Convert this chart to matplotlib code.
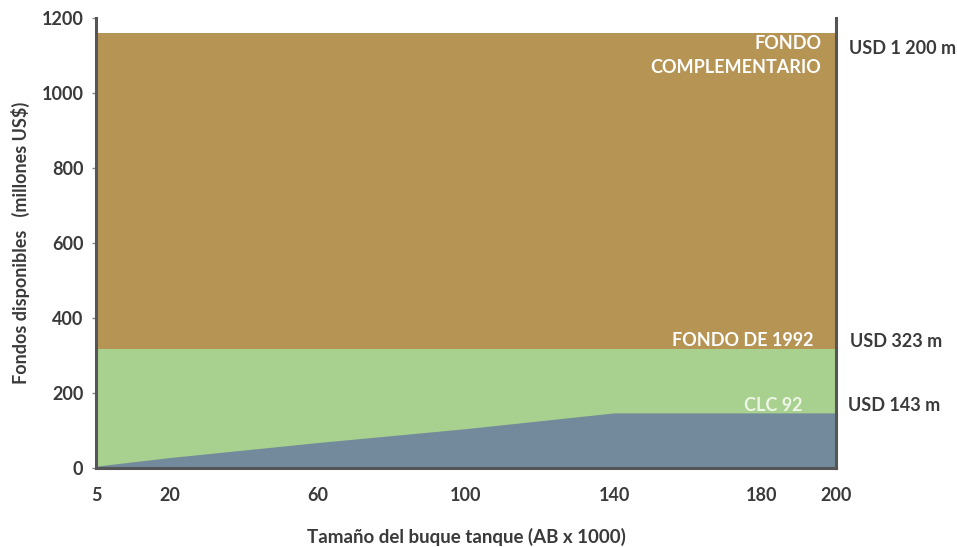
import matplotlib.pyplot as plt

# Tamaño del buque (AB x 1000) y fondos disponibles (millones US$)
ab = [5, 20, 60, 100, 140, 200]
clc92 = [5, 28, 68, 105, 147, 147]
fondo_1992 = 318
fondo_compl = 1160

xticks = [5, 20, 60, 100, 140, 180, 200]
yticks = [0, 200, 400, 600, 800, 1000, 1200]

c_compl = "#B69454"
c_1992 = "#A8D08E"
c_clc = "#728A9B"
c_text = "#3A3A3A"
c_spine = "#555555"

plt.rcParams["font.family"] = ["Lato", "DejaVu Sans"]

fig = plt.figure(figsize=(9.57, 5.47), dpi=100)
ax = fig.add_axes([0.1003, 0.1444, 0.7733, 0.8226])

# piecewise axis: 5->20 and 180->200 take half a step, others a full step
brk = [0, 5, 20, 60, 100, 140, 180, 200, 220]
pos = [-1 / 6, 0, 0.5, 1.5, 2.5, 3.5, 4.5, 5, 5.5]


def fwd(v):
    import numpy as np
    return np.interp(v, brk, pos)


def inv(p):
    import numpy as np
    return np.interp(p, pos, brk)


ax.set_xscale("function", functions=(fwd, inv))

x_full = [ab[0], ab[-1]]
ax.fill_between(x_full, 0, fondo_compl, color=c_compl, linewidth=0, zorder=1)
ax.fill_between(x_full, 0, fondo_1992, color=c_1992, linewidth=0, zorder=2)
ax.fill_between(ab, 0, clc92, color=c_clc, linewidth=0, zorder=3)

ax.set_xlim(5, 200)
ax.set_ylim(0, 1200)
ax.set_xticks(xticks)
ax.set_xticklabels([str(t) for t in xticks])
ax.set_yticks(yticks)
ax.minorticks_off()

fs = 13
ax.tick_params(axis="x", length=0, pad=14, labelsize=fs, labelcolor=c_text)
ax.tick_params(axis="y", length=3, width=1, color="#888888", pad=6,
               labelsize=fs, labelcolor=c_text)
for lab in ax.get_xticklabels() + ax.get_yticklabels():
    lab.set_fontweight("bold")

ax.spines["top"].set_visible(False)
for s in ["left", "bottom", "right"]:
    ax.spines[s].set_linewidth(2.2)
    ax.spines[s].set_color(c_spine)
    ax.spines[s].set_zorder(5)

ax.set_xlabel("Tamaño del buque tanque (AB x 1000)", fontsize=13.5,
              fontweight="bold", color=c_text, labelpad=17)
ax.set_ylabel("Fondos disponibles   (millones US$)", fontsize=13,
              fontweight="bold", color=c_text, labelpad=8)

# labels inside the areas
ax.text(196, 1100, "FONDO\nCOMPLEMENTARIO", ha="right", va="center",
        color="white", fontsize=fs, fontweight="bold", linespacing=1.45)
ax.text(194, 341, "FONDO DE 1992", ha="right", va="center",
        color="white", fontsize=fs, fontweight="bold")
ax.text(191, 167, "CLC 92", ha="right", va="center",
        color="#EEF6E8", fontsize=fs, fontweight="bold")

# amounts to the right of the chart
tr = ax.get_yaxis_transform()
ax.text(1.017, 1120, "USD 1 200 m", transform=tr, ha="left", va="center",
        color=c_text, fontsize=fs, fontweight="bold", clip_on=False)
ax.text(1.019, 338, "USD 323 m", transform=tr, ha="left", va="center",
        color=c_text, fontsize=fs, fontweight="bold", clip_on=False)
ax.text(1.016, 166, "USD 143 m", transform=tr, ha="left", va="center",
        color=c_text, fontsize=fs, fontweight="bold", clip_on=False)

fig.savefig("out.png", dpi=100, facecolor="white")
